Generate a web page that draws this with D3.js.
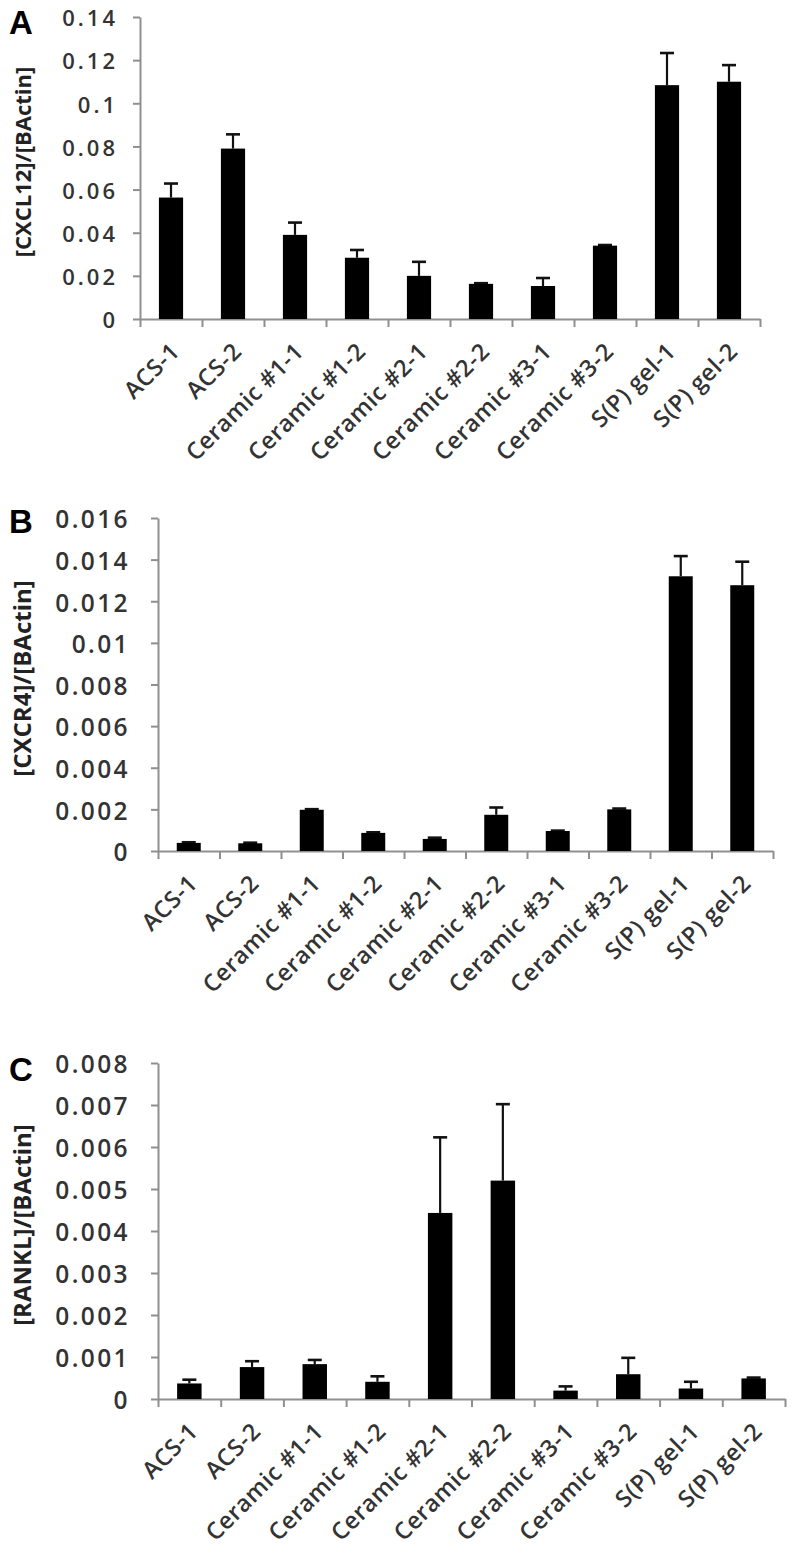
<!DOCTYPE html>
<html>
<head>
<meta charset="utf-8">
<script src="https://cdn.jsdelivr.net/npm/d3@7"></script>
<style>
  body { margin: 0; background: #fff; }
  svg { display: block; }
  .tick text { font-family: "Open Sans", sans-serif; fill: #333; font-weight: 600; }
</style>
</head>
<body>
<div id="chart"></div>
<script>
var svgWidth = 792;
var svgHeight = 1559;

// categories (same for all three panels)
var categories = ["ACS-1", "ACS-2", "Ceramic #1-1", "Ceramic #1-2", "Ceramic #2-1",
  "Ceramic #2-2", "Ceramic #3-1", "Ceramic #3-2", "S(P) gel-1", "S(P) gel-2"];

// panel A - CXCL12
var cxcl12Mean = [0.0563, 0.0790, 0.0390, 0.0284, 0.0200, 0.0163, 0.0153, 0.0340, 0.1084, 0.1100];
var cxcl12Err = [0.0065, 0.0066, 0.0057, 0.0036, 0.0065, 0.0003, 0.0037, 0.0003, 0.0149, 0.0077];
var cxcl12Ticks = [0, 0.02, 0.04, 0.06, 0.08, 0.1, 0.12, 0.14];

// panel B - CXCR4
var cxcr4Mean = [0.00039, 0.00037, 0.00198, 0.00087, 0.00058, 0.00174, 0.00096, 0.00200, 0.01320, 0.01277];
var cxcr4Err = [0.00003, 0.00003, 0.00003, 0.00003, 0.00006, 0.00035, 0.00002, 0.00004, 0.00097, 0.00113];
var cxcr4Ticks = [0, 0.002, 0.004, 0.006, 0.008, 0.01, 0.012, 0.014, 0.016];

// panel C - RANKL
var ranklMean = [0.00037, 0.00076, 0.00083, 0.00041, 0.00443, 0.00520, 0.00020, 0.00059, 0.00025, 0.00049];
var ranklErr = [0.00009, 0.00014, 0.00010, 0.00013, 0.00180, 0.00182, 0.00010, 0.00039, 0.00016, 0.00002];
var ranklTicks = [0, 0.001, 0.002, 0.003, 0.004, 0.005, 0.006, 0.007, 0.008];

var panels = [
  { letter: "A", title: "[CXCL12]/[BActin]", mean: cxcl12Mean, err: cxcl12Err, ticks: cxcl12Ticks,
    left: 140, right: 760, top: 17, bottom: 319, tickFont: 22, tickSpacing: 3, tickPad: 15,
    titleFont: 22, letterY: 34 },
  { letter: "B", title: "[CXCR4]/[BActin]", mean: cxcr4Mean, err: cxcr4Err, ticks: cxcr4Ticks,
    left: 158, right: 773, top: 518, bottom: 851, tickFont: 24.5, tickSpacing: 2.4, tickPad: 21,
    titleFont: 24, letterY: 533 },
  { letter: "C", title: "[RANKL]/[BActin]", mean: ranklMean, err: ranklErr, ticks: ranklTicks,
    left: 158, right: 785, top: 1063, bottom: 1399, tickFont: 24.5, tickSpacing: 2.4, tickPad: 21,
    titleFont: 24, letterY: 1081 }
];

var svg = d3.select("#chart")
  .append("svg")
  .attr("width", svgWidth)
  .attr("height", svgHeight);

function fmt(d) {
  return d === 0 ? "0" : String(+d.toFixed(4));
}

panels.forEach(function(p) {
  var g = svg.append("g");

  var yScale = d3.scaleLinear()
    .domain([0, d3.max(p.ticks)])
    .range([p.bottom, p.top]);

  var xScale = d3.scaleBand()
    .domain(categories)
    .range([p.left, p.right])
    .paddingInner(0)
    .paddingOuter(0);

  // boundaries between categories for the x tick marks
  var edgeScale = d3.scaleLinear()
    .domain([0, categories.length])
    .range([p.left, p.right]);

  // y axis
  var yAxis = g.append("g")
    .attr("transform", `translate(${p.left}, 0)`)
    .call(d3.axisLeft(yScale).tickValues(p.ticks).tickFormat(fmt).tickSize(7).tickSizeOuter(0).tickPadding(p.tickPad));

  yAxis.selectAll("text")
    .style("font-size", p.tickFont + "px")
    .style("letter-spacing", p.tickSpacing + "px")
    .attr("dy", "0.4em");

  // x axis (ticks between bars, no labels)
  var xAxis = g.append("g")
    .attr("transform", `translate(0, ${p.bottom})`)
    .call(d3.axisBottom(edgeScale).tickValues(d3.range(categories.length + 1)).tickFormat("").tickSize(8).tickSizeOuter(0));

  g.selectAll(".domain, .tick line")
    .attr("stroke", "#8f8f8f")
    .attr("stroke-width", 2);

  // category labels
  g.append("g").selectAll("text")
    .data(categories)
    .enter()
    .append("text")
    .attr("transform", d => `translate(${xScale(d) + xScale.bandwidth() / 2 + 10}, ${p.bottom + 34}) rotate(-45)`)
    .attr("text-anchor", "end")
    .style("font-family", "'Open Sans', sans-serif")
    .style("font-weight", "600")
    .style("font-size", "23.5px")
    .style("letter-spacing", "0.5px")
    .style("fill", "#333")
    .text(d => d);

  var barW = xScale.bandwidth() * 0.39;

  // error bars (upper only)
  var errG = g.append("g").selectAll("g")
    .data(categories)
    .enter()
    .append("g");

  errG.append("line")
    .attr("x1", d => xScale(d) + xScale.bandwidth() / 2)
    .attr("x2", d => xScale(d) + xScale.bandwidth() / 2)
    .attr("y1", (d, i) => yScale(p.mean[i]))
    .attr("y2", (d, i) => yScale(p.mean[i] + p.err[i]))
    .attr("stroke", "#111")
    .attr("stroke-width", 2.2);

  errG.append("line")
    .attr("x1", d => xScale(d) + xScale.bandwidth() / 2 - 7)
    .attr("x2", d => xScale(d) + xScale.bandwidth() / 2 + 7)
    .attr("y1", (d, i) => yScale(p.mean[i] + p.err[i]))
    .attr("y2", (d, i) => yScale(p.mean[i] + p.err[i]))
    .attr("stroke", "#111")
    .attr("stroke-width", 2.6);

  // bars
  g.append("g").selectAll("rect")
    .data(categories)
    .enter()
    .append("rect")
    .attr("x", d => xScale(d) + (xScale.bandwidth() - barW) / 2)
    .attr("y", (d, i) => yScale(p.mean[i]))
    .attr("width", barW)
    .attr("height", (d, i) => p.bottom - yScale(p.mean[i]))
    .attr("fill", "#000");

  // y axis title
  g.append("text")
    .attr("transform", `translate(31, ${(p.top + p.bottom) / 2 - 6}) rotate(-90)`)
    .attr("text-anchor", "middle")
    .style("font-family", "'Open Sans', sans-serif")
    .style("font-weight", "bold")
    .style("font-size", p.titleFont + "px")
    .style("fill", "#222")
    .text(p.title);

  // panel letter
  g.append("text")
    .attr("x", 9)
    .attr("y", p.letterY)
    .style("font-family", "'Liberation Sans', Arial, sans-serif")
    .style("font-weight", "bold")
    .style("font-size", "33px")
    .style("fill", "#000")
    .text(p.letter);
});
</script>
</body>
</html>
